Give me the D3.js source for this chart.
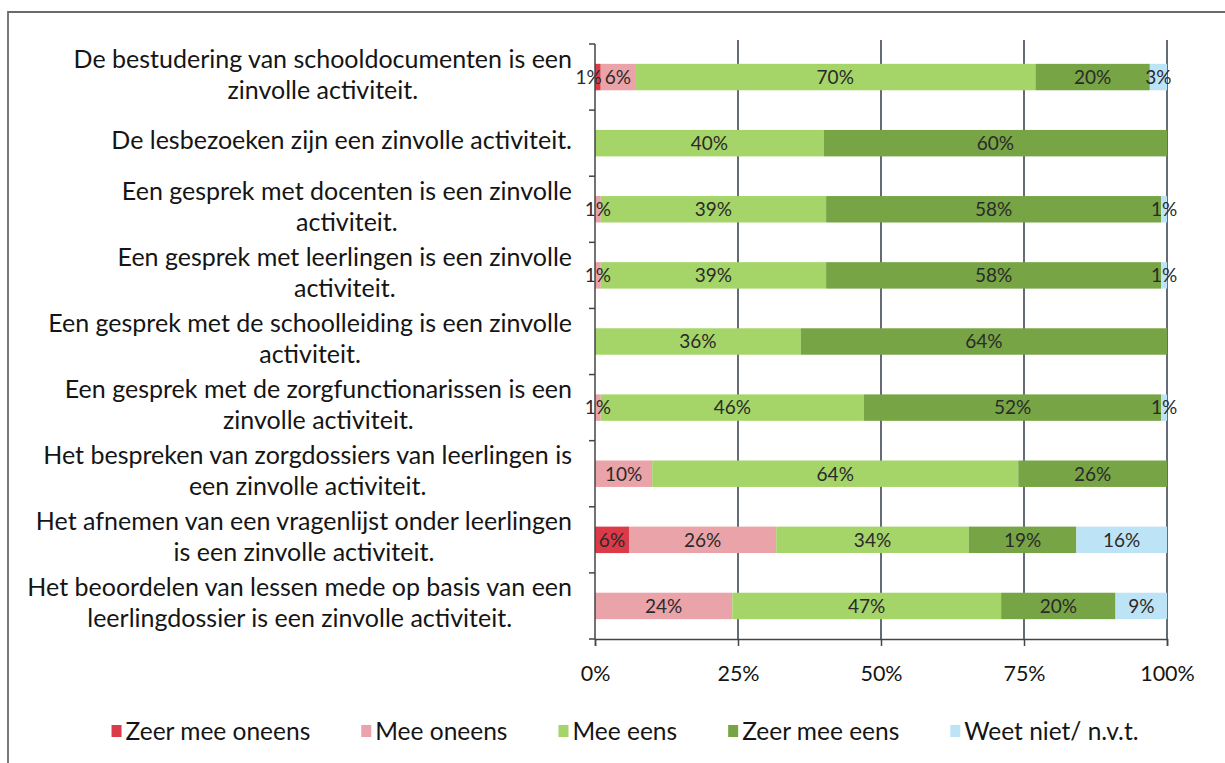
<!DOCTYPE html>
<html>
<head>
<meta charset="utf-8">
<script src="https://cdn.jsdelivr.net/npm/d3@7"></script>
<style>
  html, body { margin: 0; padding: 0; background: #fff; }
  svg { display: block; }
  text { font-family: Lato, "Open Sans", "DejaVu Sans", sans-serif; fill: #151515; }
</style>
</head>
<body>
<svg id="chart" width="1225" height="763"></svg>
<script>
// ---- Data ----
const categories = [
  ["De bestudering van schooldocumenten is een", "zinvolle activiteit."],
  ["De lesbezoeken zijn een zinvolle activiteit."],
  ["Een gesprek met docenten is een zinvolle", "activiteit."],
  ["Een gesprek met leerlingen is een zinvolle", "activiteit."],
  ["Een gesprek met de schoolleiding is een zinvolle", "activiteit."],
  ["Een gesprek met de zorgfunctionarissen is een", "zinvolle activiteit."],
  ["Het bespreken van zorgdossiers van leerlingen is", "een zinvolle activiteit."],
  ["Het afnemen van een vragenlijst onder leerlingen", "is een zinvolle activiteit."],
  ["Het beoordelen van lessen mede op basis van een", "leerlingdossier is een zinvolle activiteit."]
];
const seriesNames = ["Zeer mee oneens", "Mee oneens", "Mee eens", "Zeer mee eens", "Weet niet/ n.v.t."];
const zeerMeeOneens = [1, 0, 0, 0, 0, 0, 0, 6, 0];
const meeOneens     = [6, 0, 1, 1, 0, 1, 10, 26, 24];
const meeEens       = [70, 40, 39, 39, 36, 46, 64, 34, 47];
const zeerMeeEens   = [20, 60, 58, 58, 64, 52, 26, 19, 20];
const weetNiet      = [3, 0, 1, 1, 0, 1, 0, 16, 9];
const tickValues = [0, 0.25, 0.5, 0.75, 1];
const tickLabels = ["0%", "25%", "50%", "75%", "100%"];
const colors = ["#dc3a48", "#eaa3a8", "#a5d468", "#77a444", "#bde3f6"];

// ---- Build table ----
const seriesArrays = [zeerMeeOneens, meeOneens, meeEens, zeerMeeEens, weetNiet];
const rows = categories.map((c, i) => {
  const r = { idx: i };
  seriesNames.forEach((s, j) => r[s] = seriesArrays[j][i]);
  return r;
});
const stacked = d3.stack().keys(seriesNames).offset(d3.stackOffsetExpand)(rows);

// ---- Layout ----
const svg = d3.select("#chart");
const margin = { left: 595, right: 58, top: 44, bottom: 124 };
const W = 1225, H = 763;
const x = d3.scaleLinear().domain([0, 1]).range([margin.left, W - margin.right]);
const y = d3.scaleBand().domain(d3.range(categories.length)).range([margin.top, H - margin.bottom]).paddingInner(0.6).paddingOuter(0.3);

// frame
svg.append("path")
  .attr("d", `M8,763 L8,12 L1225,12`)
  .attr("fill", "none").attr("stroke", "#6a6a6a").attr("stroke-width", 1.8);

// gridlines
svg.append("g").selectAll("line").data(tickValues.slice(1)).join("line")
  .attr("x1", d => x(d)).attr("x2", d => x(d))
  .attr("y1", margin.top - 4).attr("y2", H - margin.bottom)
  .attr("stroke", "#3e4656").attr("stroke-width", 1.6);

// bars
const g = svg.append("g");
stacked.forEach((layer, j) => {
  g.append("g").attr("fill", colors[j]).selectAll("rect")
    .data(layer).join("rect")
    .attr("x", d => x(d[0]))
    .attr("width", d => Math.max(0, x(d[1]) - x(d[0])))
    .attr("y", (d, i) => y(i))
    .attr("height", y.bandwidth());
});

// data labels (with simple left-shift to avoid overlap within a row)
const labG = g.append("g");
rows.forEach((r, i) => {
  const items = [];
  stacked.forEach((layer, j) => {
    const d = layer[i];
    const v = r[seriesNames[j]];
    if (v > 0) {
      const t = labG.append("text")
        .attr("y", y(i) + y.bandwidth() / 2)
        .attr("dy", "0.36em")
        .attr("text-anchor", "middle")
        .style("font-size", "19px")
        .style("fill", "#2a2a2a")
        .text(v + "%");
      items.push({ t, cx: (x(d[0]) + x(d[1])) / 2, w: t.node().getComputedTextLength() });
    }
  });
  for (let k = items.length - 2; k >= 0; k--) {
    const a = items[k], b = items[k + 1];
    const overlap = (a.cx + a.w / 2) - (b.cx - b.w / 2) + 3;
    if (overlap > 0) a.cx -= overlap;
  }
  items.forEach(it => it.t.attr("x", it.cx));
});

// y axis (left line with ticks at band boundaries)
const yAxisG = svg.append("g");
yAxisG.append("line")
  .attr("x1", x(0)).attr("x2", x(0))
  .attr("y1", margin.top).attr("y2", H - margin.bottom)
  .attr("stroke", "#444").attr("stroke-width", 1.5);
const step = (H - margin.bottom - margin.top) / categories.length;
yAxisG.selectAll("line.t").data(d3.range(categories.length + 1)).join("line")
  .attr("class", "t")
  .attr("x1", x(0) - 6).attr("x2", x(0))
  .attr("y1", d => margin.top + d * step).attr("y2", d => margin.top + d * step)
  .attr("stroke", "#444").attr("stroke-width", 1.5);

// x axis
const xAxis = d3.axisBottom(x).tickValues(tickValues).tickFormat((d, i) => tickLabels[i]).tickSize(7).tickPadding(20);
const xg = svg.append("g").attr("transform", `translate(0,${H - margin.bottom})`).call(xAxis);
xg.select(".domain").attr("stroke", "#444").attr("stroke-width", 1.5);
xg.selectAll(".tick line").attr("stroke", "#444").attr("stroke-width", 1.5);
xg.attr("font-family", null).attr("font-size", null);
xg.selectAll(".tick text").style("font-size", "21.5px").style("fill", "#151515");

// category labels
const labelRight = 572;
const lineH = 31;
const catG = svg.append("g");
categories.forEach((lines, i) => {
  const cy = y(i) + y.bandwidth() / 2 - 3;
  const t = catG.append("text").style("font-size", "25px").attr("text-anchor", "middle");
  const spans = lines.map((ln) => t.append("tspan").text(ln));
  const widths = spans.map(s => s.node().getComputedTextLength());
  const bw = d3.max(widths);
  const cx = labelRight - bw / 2;
  spans.forEach((s, k) => {
    s.attr("x", cx).attr("y", cy + (k - (lines.length - 1) / 2) * lineH).attr("dy", "0.36em");
  });
});

// legend
const legG = svg.append("g");
const legY = 731;
const items = seriesNames.map((s, j) => {
  const it = legG.append("g");
  it.append("rect").attr("width", 10).attr("height", 12).attr("y", legY - 6).attr("fill", colors[j]);
  const tx = it.append("text").attr("x", 14).attr("y", legY).attr("dy", "0.36em").style("font-size", "24.5px").text(s);
  return { g: it, w: 14 + tx.node().getComputedTextLength() };
});
const gap = 51;
const totalW = d3.sum(items, d => d.w) + gap * (items.length - 1);
let cur = 625 - totalW / 2;
items.forEach(it => { it.g.attr("transform", `translate(${cur},0)`); cur += it.w + gap; });
</script>
</body>
</html>
